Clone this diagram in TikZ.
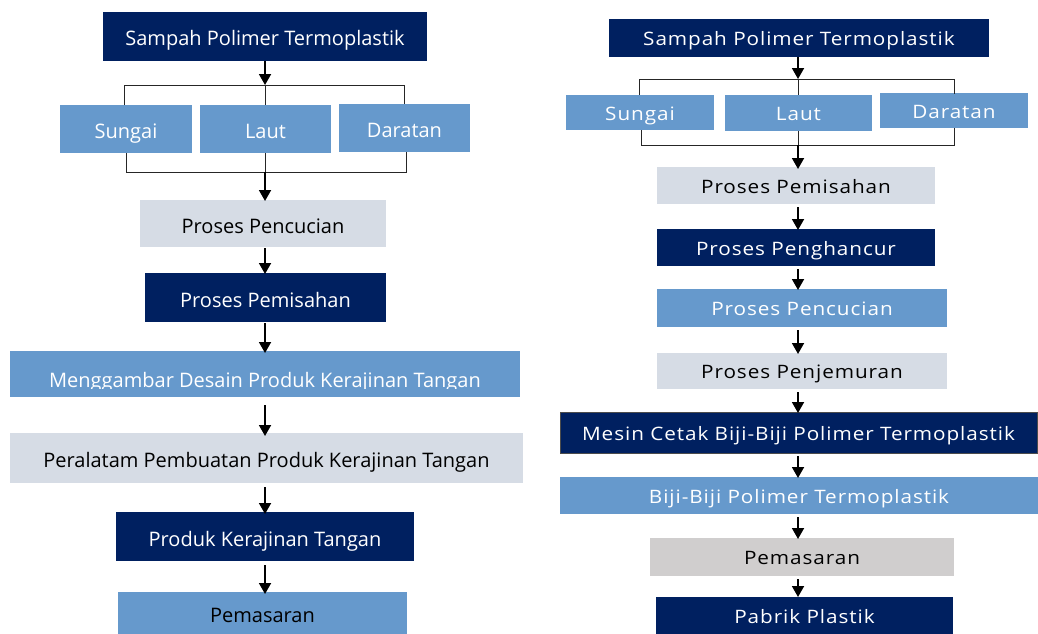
\documentclass[tikz,border=0pt]{standalone}
\usepackage{fontspec}
\setmainfont{Open Sans}
\newfontfamily\rfont[LetterSpace=5,FakeStretch=1.12]{Open Sans}
\usetikzlibrary{arrows.meta}
\definecolor{navy}{HTML}{002060}
\definecolor{midblue}{HTML}{6699CC}
\definecolor{paleblue}{HTML}{D6DCE5}
\definecolor{palegray}{HTML}{D0CECE}
\tikzset{
  bx/.style={inner sep=0pt, outer sep=0pt, anchor=north west},
  dk/.style={bx, fill=navy, text=white},
  md/.style={bx, fill=midblue, text=white},
  lt/.style={bx, fill=paleblue, text=black},
  gy/.style={bx, fill=palegray, text=black},
  lf/.style={font=\fontsize{20}{24}\selectfont, text height=19pt, text depth=0pt},
  rf/.style={font=\rfont\fontsize{18.5}{22}\selectfont, text height=15pt, text depth=0pt},
  arr/.style={line width=1.8pt, -{Triangle[width=12pt,length=11pt]}},
  brk/.style={line width=0.9pt, draw=black!85},
}
\begin{document}
\begin{tikzpicture}[x=1pt,y=-1pt]
\useasboundingbox (0,0) rectangle (1038,634);
% ---------------- left column ----------------
\node[dk,lf,minimum width=324pt,minimum height=49pt] (l1) at (103,12) {Sampah Polimer Termoplastik};
\node[md,lf,minimum width=132pt,minimum height=48pt] (ls) at (60,105) {Sungai};
\node[md,lf,minimum width=131pt,minimum height=48pt] (ll) at (200,105) {Laut};
\node[md,lf,minimum width=131pt,minimum height=48pt] (ld) at (339,104) {Daratan};
\coordinate (lt) at (265,85);
\coordinate (lb) at (265,172);
\node[lt,lf,minimum width=246pt,minimum height=47pt] (l2) at (140,200) {Proses Pencucian};
\node[dk,lf,minimum width=241pt,minimum height=49pt] (l3) at (145,273) {Proses Pemisahan};
\node[md,minimum width=510pt,minimum height=46pt] (l4) at (10,351) {};
\begin{scope}
  \clip (10,351) rectangle (520,388.5);
  \node[font=\fontsize{20}{24}\selectfont,text=white,anchor=base,inner sep=0pt] (l4t) at (265,387) {Menggambar Desain Produk Kerajinan Tangan};
\end{scope}
\node[lt,lf,minimum width=513pt,minimum height=50pt] (l5) at (10,433) {Peralatam Pembuatan Produk Kerajinan Tangan};
\node[dk,lf,minimum width=298pt,minimum height=49pt] (l6) at (116,512) {Produk Kerajinan Tangan};
\node[md,lf,text=black,minimum width=289pt,minimum height=42pt] (l7) at (118,592) {Pemasaran};
\coordinate (lax) at (265,0);
% arrows & brackets (left)
\draw[arr] (lax |- l1.south) -- (lt);
\draw[brk] (ls.north -| 124,0) -- (lt -| 124,0) -- (lt -| 404,0) -- (ld.north -| 404,0);
\draw[brk] (lt) -- (lax |- ll.north);
\draw[brk] (ls.south -| 126,0) -- (lb -| 126,0) -- (lb -| 406,0) -- (ld.south -| 406,0);
\draw[brk] (lax |- ll.south) -- (lb);
\draw[arr] (lb) -- ([yshift=-1pt]lax |- l2.north);
\draw[arr,shorten <=1pt] (lax |- l2.south) -- ([yshift=-1pt]lax |- l3.north);
\draw[arr,shorten <=1pt] (lax |- l3.south) -- ([yshift=-2pt]lax |- l4.north);
\draw[arr,shorten <=8pt] (lax |- l4.south) -- ([yshift=-3pt]lax |- l5.north);
\draw[arr,shorten <=4pt] (lax |- l5.south) -- ([yshift=-2pt]lax |- l6.north);
\draw[arr,shorten <=4pt] (lax |- l6.south) -- ([yshift=-2pt]lax |- l7.north);
% ---------------- right column ----------------
\node[dk,rf,minimum width=380pt,minimum height=38pt] (r1) at (609,19) {Sampah Polimer Termoplastik};
\node[md,rf,minimum width=148pt,minimum height=35pt] (rs) at (566,95) {Sungai};
\node[md,rf,minimum width=147pt,minimum height=36pt] (rl) at (725,95) {Laut};
\node[md,rf,minimum width=148pt,minimum height=35pt] (rd) at (880,93) {Daratan};
\coordinate (rt) at (798,79);
\coordinate (rb) at (798,145);
\node[lt,rf,minimum width=278pt,minimum height=37pt] (r2) at (657,167) {Proses Pemisahan};
\node[dk,rf,minimum width=278pt,minimum height=37pt] (r3) at (657,229) {Proses Penghancur};
\node[md,rf,minimum width=290pt,minimum height=38pt] (r4) at (657,289) {Proses Pencucian};
\node[lt,rf,minimum width=290pt,minimum height=36pt] (r5) at (657,353) {Proses Penjemuran};
\node[dk,rf,draw=black!70,line width=0.6pt,minimum width=477pt,minimum height=41pt] (r6) at (560,412) {Mesin Cetak Biji-Biji Polimer Termoplastik};
\node[md,rf,minimum width=478pt,minimum height=37pt] (r7) at (560,477) {Biji-Biji Polimer Termoplastik};
\node[gy,rf,minimum width=304pt,minimum height=38pt] (r8) at (650,538) {Pemasaran};
\node[dk,rf,minimum width=297pt,minimum height=37pt] (r9) at (656,597) {Pabrik Plastik};
\coordinate (rax) at (798,0);
% arrows & brackets (right)
\draw[arr] (rax |- r1.south) -- (rt);
\draw[brk] (rs.north -| 639,0) -- (rt -| 639,0) -- (rt -| 954,0) -- ([yshift=-1pt]rd.north -| 954,0);
\draw[brk] (rt) -- (rax |- rl.north);
\draw[brk] (rs.south -| 641,0) -- (rb -| 641,0) -- (rb -| 954,0) -- (rd.south -| 954,0);
\draw[brk] (rax |- rl.south) -- (rb);
\draw[arr] (rb) -- ([yshift=-2pt]rax |- r2.north);
\draw[arr,shorten <=3pt] (rax |- r2.south) -- ([yshift=-1pt]rax |- r3.north);
\draw[arr,shorten <=3pt] (rax |- r3.south) -- ([yshift=-1pt]rax |- r4.north);
\draw[arr,shorten <=3pt] (rax |- r4.south) -- ([yshift=-1pt]rax |- r5.north);
\draw[arr,shorten <=3pt] (rax |- r5.south) -- ([yshift=-1pt]rax |- r6.north);
\draw[arr,shorten <=3pt] (rax |- r6.south) -- ([yshift=-1pt]rax |- r7.north);
\draw[arr,shorten <=3pt] (rax |- r7.south) -- ([yshift=-1pt]rax |- r8.north);
\draw[arr,shorten <=3pt] (rax |- r8.south) -- ([yshift=0pt]rax |- r9.north);
\end{tikzpicture}
\end{document}
